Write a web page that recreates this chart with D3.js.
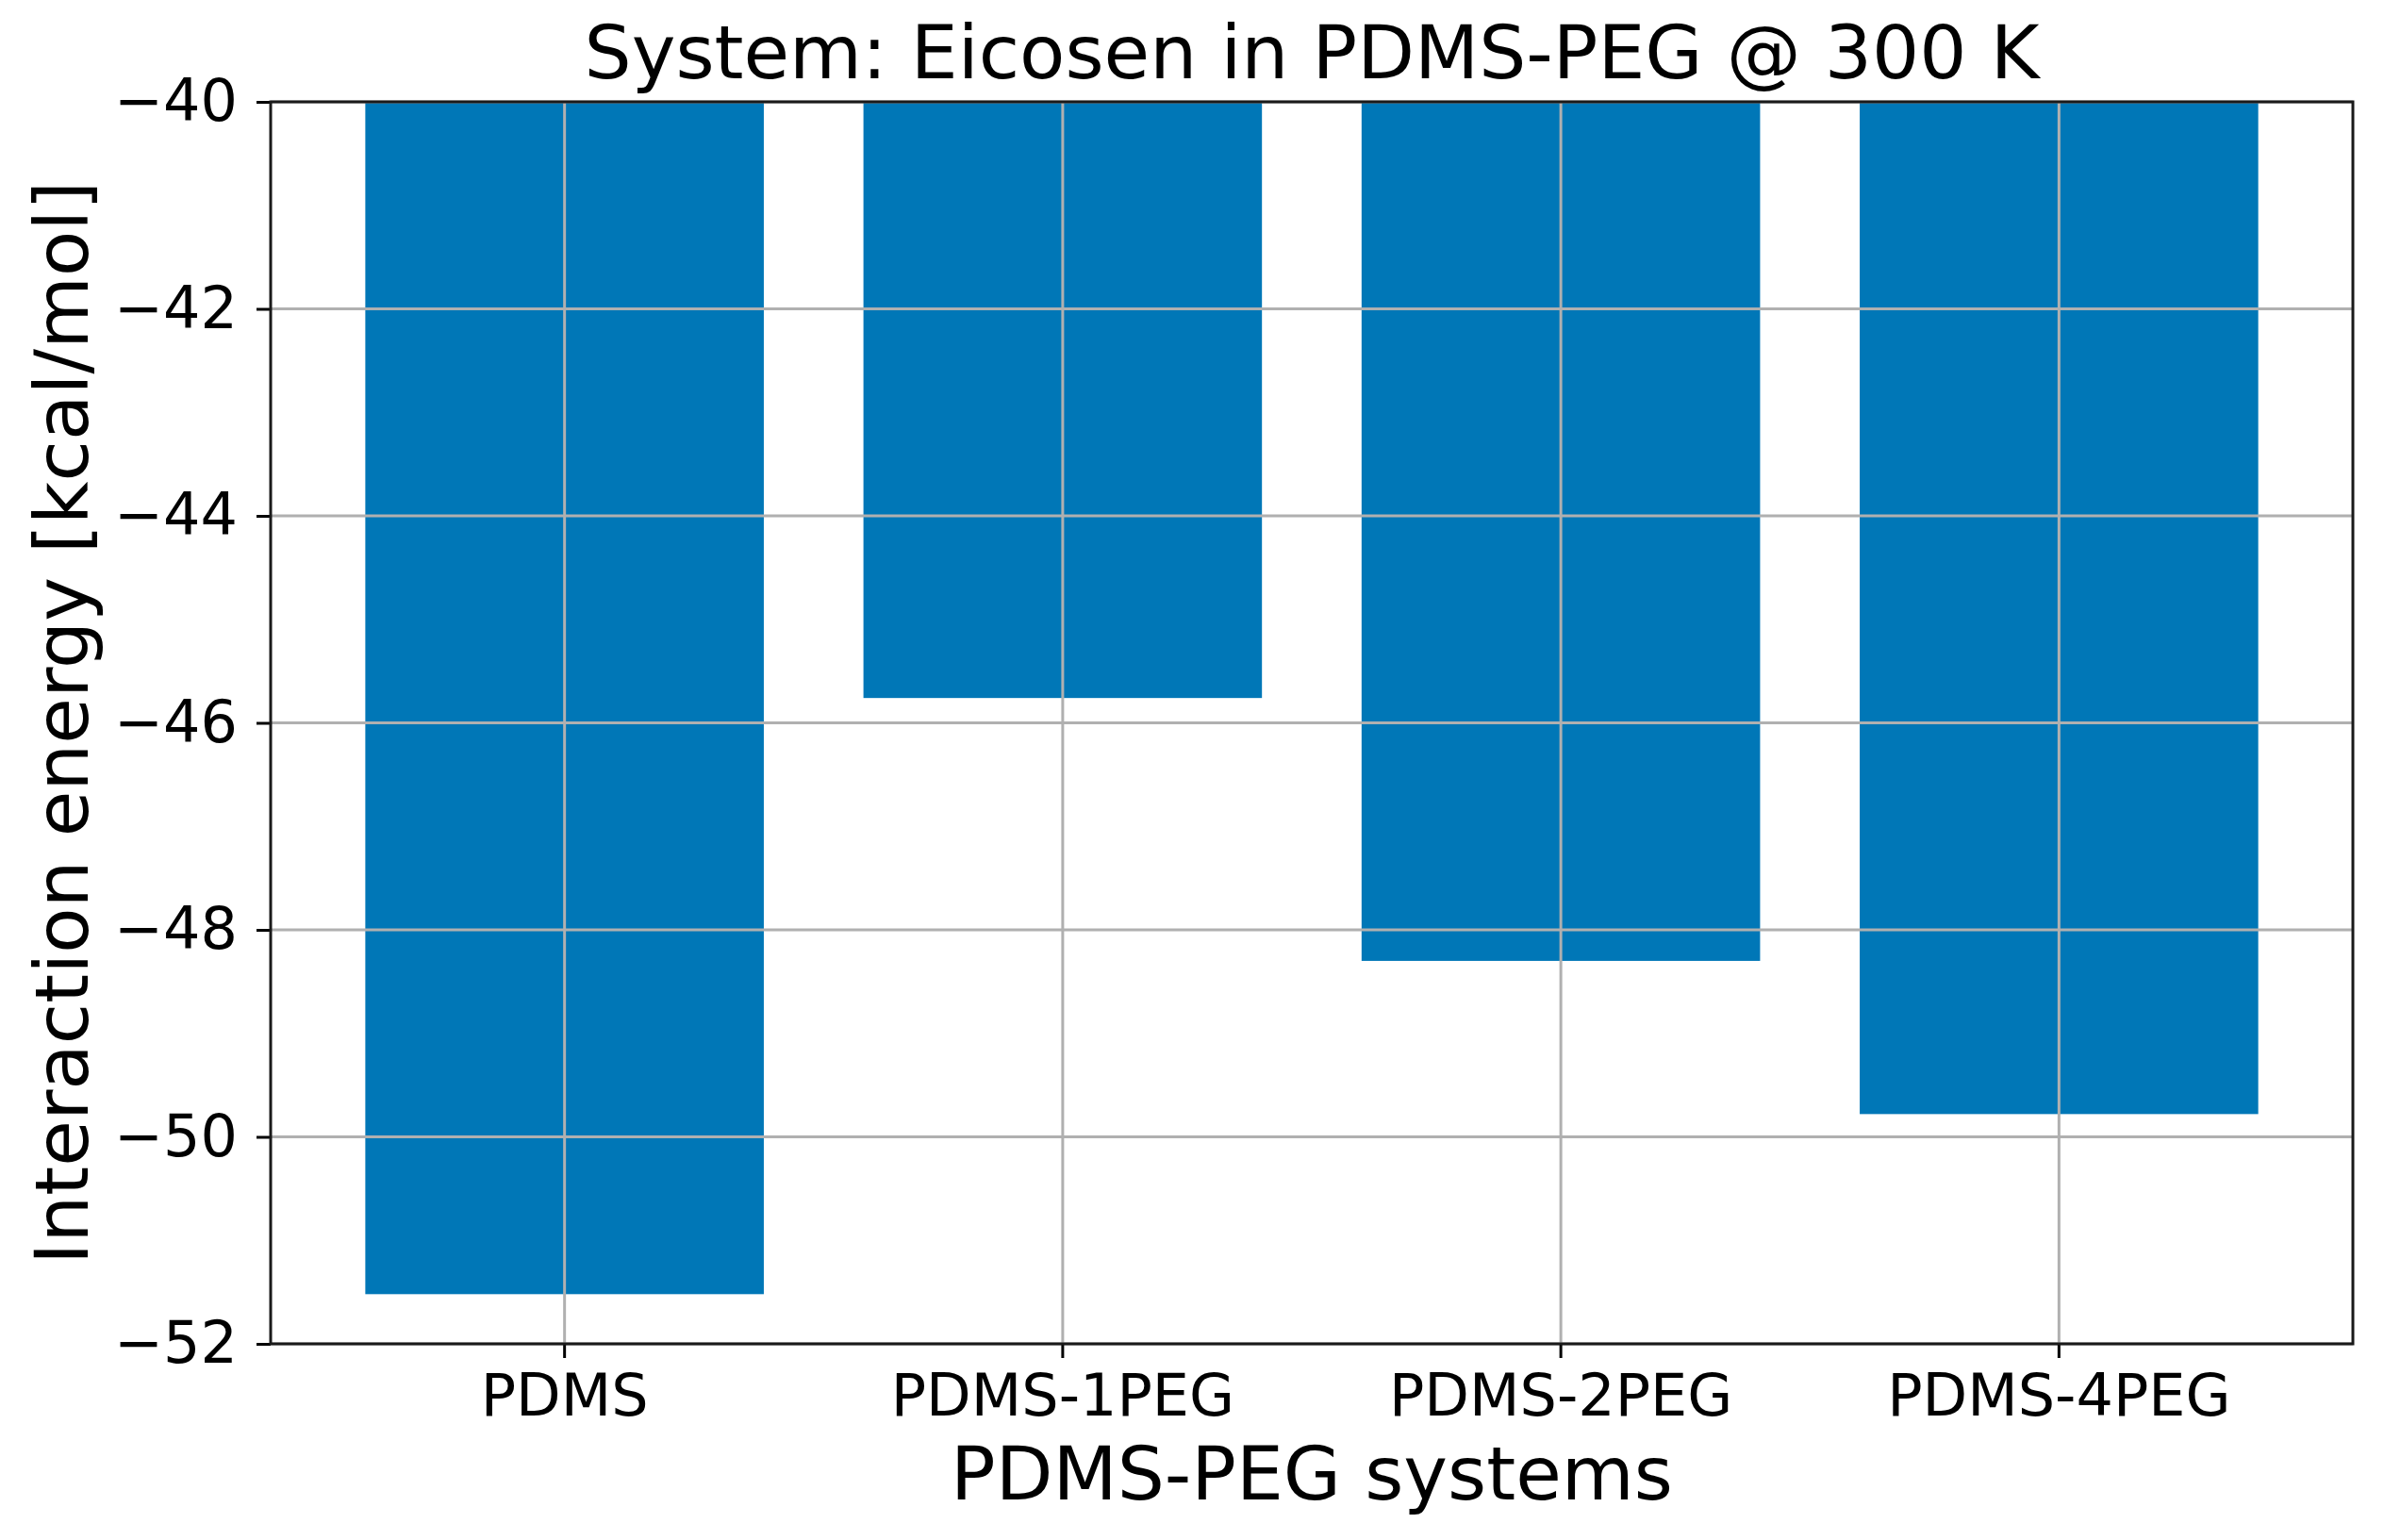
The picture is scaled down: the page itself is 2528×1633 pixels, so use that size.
<!DOCTYPE html>
<html>
<head>
<meta charset="utf-8">
<script src="https://cdn.jsdelivr.net/npm/d3@7"></script>
<style>
  html, body { margin: 0; padding: 0; background: #fff; }
  svg { display: block; }
  text { font-family: "DejaVu Sans", sans-serif; fill: #000; }
</style>
</head>
<body>
<svg id="chart" width="2528" height="1633"></svg>
<script>
const categories = ["PDMS", "PDMS-1PEG", "PDMS-2PEG", "PDMS-4PEG"];
const values = [-51.52, -45.76, -48.30, -49.78];
const yTicks = [-52, -50, -48, -46, -44, -42, -40];
const titleText = "System: Eicosen in PDMS-PEG @ 300 K";
const xLabelText = "PDMS-PEG systems";
const yLabelText = "Interaction energy [kcal/mol]";

const W = 2528, H = 1633;
const m = { left: 287, right: 2495, top: 108, bottom: 1425 };
const svg = d3.select("#chart");

const x = d3.scaleBand().domain(categories).range([m.left, m.right])
  .paddingInner(0.2).paddingOuter(0.19);
const y = d3.scaleLinear().domain([-52, -40]).range([m.bottom, m.top]);

svg.append("defs").append("clipPath").attr("id", "clip")
  .append("rect").attr("x", m.left).attr("y", m.top)
  .attr("width", m.right - m.left).attr("height", m.bottom - m.top);

// bars (drawn from 0 downwards, clipped at the top of the axes)
svg.append("g").attr("clip-path", "url(#clip)")
  .selectAll("rect").data(values).join("rect")
  .attr("x", (d, i) => x(categories[i]))
  .attr("width", x.bandwidth())
  .attr("y", d => y(Math.min(0, y.domain()[1])))
  .attr("height", d => y(d) - y(y.domain()[1]))
  .attr("fill", "#0077b7");

// grid lines (above bars)
const grid = svg.append("g");
grid.selectAll("line.h").data(yTicks).join("line")
  .attr("x1", m.left).attr("x2", m.right)
  .attr("y1", d => y(d)).attr("y2", d => y(d))
  .attr("stroke", "#b0b0b0").attr("stroke-width", 3);
grid.selectAll("line.v").data(categories).join("line")
  .attr("x1", d => x(d) + x.bandwidth() / 2).attr("x2", d => x(d) + x.bandwidth() / 2)
  .attr("y1", m.top).attr("y2", m.bottom)
  .attr("stroke", "#b0b0b0").attr("stroke-width", 3);

// axes
const yAxis = d3.axisLeft(y).tickValues(yTicks).tickSize(15).tickPadding(20)
  .tickFormat(d => d3.format("d")(d).replace("-", "\u2212"));
const gy = svg.append("g").attr("transform", `translate(${m.left},0)`).call(yAxis);
gy.select(".domain").remove();
gy.selectAll(".tick line").attr("stroke", "#000").attr("stroke-width", 3);
gy.selectAll(".tick text").attr("font-size", 62).attr("font-family", "DejaVu Sans").attr("fill", "#000");

const xAxis = d3.axisBottom(x).tickSize(15).tickPadding(17);
const gx = svg.append("g").attr("transform", `translate(0,${m.bottom})`).call(xAxis);
gx.select(".domain").remove();
gx.selectAll(".tick line").attr("stroke", "#000").attr("stroke-width", 3);
gx.selectAll(".tick text").attr("font-size", 62).attr("font-family", "DejaVu Sans").attr("fill", "#000");

// frame (spines)
svg.append("rect").attr("x", m.left).attr("y", m.top)
  .attr("width", m.right - m.left).attr("height", m.bottom - m.top)
  .attr("fill", "none").attr("stroke", "#1a1a1a").attr("stroke-width", 3);

// title and labels
svg.append("text").attr("x", (m.left + m.right) / 2).attr("y", 83)
  .attr("text-anchor", "middle").attr("font-size", 79).text(titleText);
svg.append("text").attr("x", (m.left + m.right) / 2).attr("y", 1590)
  .attr("text-anchor", "middle").attr("font-size", 79).text(xLabelText);
svg.append("text")
  .attr("transform", `translate(93,${(m.top + m.bottom) / 2}) rotate(-90)`)
  .attr("text-anchor", "middle").attr("font-size", 79).text(yLabelText);
</script>
</body>
</html>
